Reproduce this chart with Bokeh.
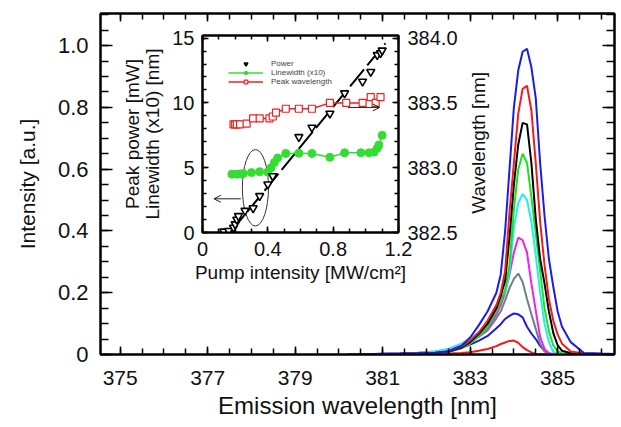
import math
from bokeh.plotting import figure
from bokeh.models import (Range1d, LinearAxis, FixedTicker, Legend, LegendItem,
                          Arrow, OpenHead, NumeralTickFormatter, Label)
from bokeh.embed import file_html
from bokeh.resources import INLINE

FONT = "Liberation Sans"

# ---------------- main panel: emission spectra ----------------
wavelength = [380.2, 380.8, 381.4, 381.8, 382.2, 382.5, 382.8, 383.0, 383.2, 383.4,
              383.6, 383.7, 383.8, 383.9, 384.0, 384.1, 384.2, 384.3, 384.4, 384.5,
              384.6, 384.7, 384.8, 384.9, 385.0, 385.1, 385.3, 385.6, 386.0, 386.3]

spec_red_small = [0.0, 0.0, 0.001, 0.001, 0.002, 0.003, 0.005, 0.007, 0.012, 0.018,
                  0.027, 0.034, 0.039, 0.044, 0.045, 0.038, 0.024, 0.014, 0.007, 0.002,
                  0.001, 0.0, 0.0, 0.0, 0.0, 0.0, 0.0, 0.0, 0.0, 0.0]
spec_blue_small = [0.0, 0.002, 0.003, 0.005, 0.007, 0.012, 0.022, 0.032, 0.045, 0.060,
                   0.085, 0.098, 0.115, 0.125, 0.133, 0.130, 0.120, 0.090, 0.068, 0.050,
                   0.028, 0.012, 0.003, 0.001, 0.0, 0.0, 0.0, 0.0, 0.0, 0.0]
spec_gray = [0.0, 0.002, 0.004, 0.006, 0.010, 0.016, 0.028, 0.042, 0.058, 0.078,
             0.118, 0.140, 0.175, 0.215, 0.245, 0.262, 0.235, 0.180, 0.130, 0.083,
             0.035, 0.010, 0.002, 0.0, 0.0, 0.0, 0.0, 0.0, 0.0, 0.0]
spec_magenta = [0.0, 0.001, 0.002, 0.004, 0.008, 0.015, 0.030, 0.042, 0.058, 0.086,
                0.130, 0.160, 0.200, 0.260, 0.330, 0.378, 0.370, 0.330, 0.230, 0.142,
                0.056, 0.018, 0.004, 0.001, 0.0, 0.0, 0.0, 0.0, 0.0, 0.0]
spec_cyan = [0.0, 0.001, 0.002, 0.004, 0.010, 0.018, 0.035, 0.052, 0.072, 0.100,
             0.150, 0.185, 0.200, 0.270, 0.410, 0.490, 0.520, 0.500, 0.430, 0.320,
             0.200, 0.100, 0.040, 0.008, 0.002, 0.001, 0.0, 0.0, 0.0, 0.0]
spec_green = [0.0, 0.001, 0.002, 0.003, 0.004, 0.008, 0.020, 0.035, 0.060, 0.090,
              0.140, 0.170, 0.210, 0.290, 0.470, 0.600, 0.650, 0.620, 0.510, 0.390,
              0.270, 0.150, 0.075, 0.030, 0.010, 0.004, 0.002, 0.001, 0.001, 0.001]
spec_black = [0.0, 0.001, 0.002, 0.003, 0.005, 0.009, 0.022, 0.040, 0.067, 0.100,
              0.150, 0.190, 0.240, 0.380, 0.550, 0.680, 0.750, 0.745, 0.620, 0.440,
              0.310, 0.230, 0.140, 0.070, 0.030, 0.012, 0.004, 0.002, 0.001, 0.001]
spec_red = [0.0, 0.001, 0.002, 0.003, 0.005, 0.010, 0.025, 0.045, 0.072, 0.110,
            0.160, 0.200, 0.270, 0.460, 0.620, 0.780, 0.860, 0.870, 0.790, 0.620,
            0.430, 0.290, 0.180, 0.110, 0.065, 0.035, 0.010, 0.003, 0.002, 0.001]
spec_blue = [0.0, 0.002, 0.003, 0.004, 0.006, 0.010, 0.028, 0.055, 0.095, 0.140,
             0.200, 0.260, 0.400, 0.600, 0.800, 0.920, 0.980, 0.990, 0.930, 0.830,
             0.620, 0.450, 0.310, 0.220, 0.140, 0.090, 0.040, 0.005, 0.003, 0.002]

spectra = [(spec_red_small, "#ee1c1c"), (spec_blue_small, "#1c1ce6"),
           (spec_gray, "#6f8088"), (spec_magenta, "#ee22ee"),
           (spec_cyan, "#22eeee"), (spec_green, "#22dd22"),
           (spec_black, "#000000"), (spec_red, "#ee1c1c"), (spec_blue, "#1c1ce6")]

main_x_ticks = [375, 377, 379, 381, 383, 385]
main_x_minor = [374.5 + 0.5 * k for k in range(25)]
main_y_ticks = [0, 0.2, 0.4, 0.6, 0.8, 1.0]
main_y_minor = [0.05 * k for k in range(23)]
main_y_labels = {0: "0", 0.2: "0.2", 0.4: "0.4", 0.6: "0.6", 0.8: "0.8", 1.0: "1.0"}

# ---------------- inset: power / linewidth / peak wavelength ----------------
power_x = [0.13, 0.16, 0.19, 0.20, 0.21, 0.22, 0.26, 0.31, 0.35, 0.40,
           0.43, 0.59, 0.67, 0.78, 0.87, 0.98, 1.03, 1.07, 1.09, 1.10]
power_y = [0.08, 0.13, 0.38, 0.64, 1.00, 1.28, 1.68, 1.88, 2.82, 3.72,
           4.35, 7.37, 8.10, 9.18, 10.75, 11.65, 12.40, 13.70, 13.85, 14.05]

linewidth_x = [0.18, 0.21, 0.23, 0.25, 0.30, 0.35, 0.40, 0.42, 0.44, 0.46, 0.51,
               0.59, 0.67, 0.78, 0.87, 0.97, 1.02, 1.05, 1.07, 1.08, 1.10]
linewidth_y = [4.50, 4.50, 4.52, 4.55, 4.62, 4.69, 4.67, 5.00, 5.40, 5.75, 6.10,
               6.12, 6.10, 5.80, 6.15, 6.15, 6.15, 6.20, 6.50, 6.75, 7.50]

peakwl_x = [0.19, 0.20, 0.21, 0.23, 0.27, 0.31, 0.35, 0.41, 0.43, 0.45,
            0.51, 0.59, 0.67, 0.78, 0.88, 0.98, 1.03, 1.06, 1.09]
peakwl_y = [383.335, 383.335, 383.335, 383.335, 383.34, 383.38, 383.38, 383.38, 383.395, 383.425,
            383.455, 383.455, 383.455, 383.50, 383.50, 383.50, 383.545, 383.50, 383.545]

fit_x = [0.17, 1.12]
fit_y = [0.0, 14.6]

inset_x_ticks = [0, 0.4, 0.8, 1.2]
inset_x_minor = [0.1 * k for k in range(13)]
inset_y_ticks = [0, 5, 10, 15]
inset_y_minor = list(range(16))
inset_wl_ticks = [382.5, 383.0, 383.5, 384.0]
inset_wl_minor = [382.5 + 0.1 * k for k in range(16)]

# annotations (ellipse around threshold points, arrows pointing to the axes)
ellipse_center = (0.324, 3.45)
ellipse_size = (0.16, 5.9)
arrow_left = (0.235, 2.6, 0.07, 2.6)
arrow_right = (0.89, 9.65, 1.085, 9.65)
# inset right-axis title, placed in the main panel's coordinates (it lies over it)
wl_label_pos = (383.19, 0.685)


def style_axis(ax, major, minor, tick_size, major_in, minor_in, width=2):
    ax.ticker = FixedTicker(ticks=major, minor_ticks=minor)
    ax.major_tick_in = major_in
    ax.major_tick_out = 0
    ax.minor_tick_in = minor_in
    ax.minor_tick_out = 0
    ax.axis_line_width = width
    ax.axis_line_color = "black"
    ax.major_tick_line_width = 1.5
    ax.minor_tick_line_width = 1.5
    ax.major_tick_line_color = "black"
    ax.minor_tick_line_color = "black"
    ax.major_label_text_font = FONT
    ax.major_label_text_font_size = tick_size
    ax.major_label_text_color = "#111111"
    ax.axis_label_text_font = FONT
    ax.axis_label_text_font_style = "normal"
    ax.axis_label_text_color = "#111111"


def blank_axis(ax):
    ax.major_label_text_color = None
    ax.major_label_text_font_size = "1px"
    ax.major_label_standoff = 0


# ---------------- main figure ----------------
p = figure(width=621, height=427, x_range=Range1d(374.55, 386.3), y_range=Range1d(0, 1.104),
           output_backend="svg", toolbar_location=None,
           min_border_left=100, min_border_right=7, min_border_top=13, min_border_bottom=73)
p.grid.visible = False
p.outline_line_color = "black"
p.outline_line_width = 2
p.background_fill_color = "white"
p.border_fill_color = "white"

for ys, col in spectra:
    p.line(wavelength, ys, line_color=col, line_width=2)

p.add_layout(Label(x=wl_label_pos[0], y=wl_label_pos[1], text="Wavelength [nm]",
                   angle=math.pi / 2, text_align="center", text_baseline="middle",
                   text_font=FONT, text_font_size="19px", text_color="#111111"))

xa = p.xaxis[0]
style_axis(xa, main_x_ticks, main_x_minor, "21px", 8, 6)
xa.axis_label = "Emission wavelength [nm]"
xa.axis_label_text_font_size = "24px"
xa.major_label_standoff = 16
xa.axis_label_standoff = 4

ya = p.yaxis[0]
style_axis(ya, main_y_ticks, main_y_minor, "22px", 12, 8)
ya.formatter = NumeralTickFormatter(format="0.0")
ya.major_label_overrides = main_y_labels
ya.axis_label = "Intensity [a.u.]"
ya.axis_label_text_font_size = "21px"
ya.major_label_standoff = 12
ya.axis_label_standoff = 16

top_ax = LinearAxis()
style_axis(top_ax, main_x_ticks, main_x_minor, "1px", 8, 6)
blank_axis(top_ax)
p.add_layout(top_ax, "above")

right_ax = LinearAxis()
style_axis(right_ax, main_y_ticks, main_y_minor, "1px", 12, 8)
blank_axis(right_ax)
p.add_layout(right_ax, "right")

# ---------------- inset figure ----------------
q = figure(frame_width=196, frame_height=197, x_range=Range1d(0, 1.2), y_range=Range1d(0, 15.2),
           output_backend="svg", toolbar_location=None,
           min_border_left=110, min_border_right=70, min_border_top=15, min_border_bottom=60)
q.extra_y_ranges = {"wl": Range1d(382.5, 384.02)}
q.grid.visible = False
q.outline_line_color = "black"
q.outline_line_width = 2
q.background_fill_color = "white"
q.border_fill_alpha = 0
q.styles = {"position": "absolute", "left": "92px", "top": "20px", "z-index": "2"}

q.ellipse(x=[ellipse_center[0]], y=[ellipse_center[1]], width=ellipse_size[0],
          height=ellipse_size[1], fill_color=None, line_color="#333333", line_width=1)
q.add_layout(Arrow(end=OpenHead(size=7, line_width=1, line_color="#222222"),
                   x_start=arrow_left[0], y_start=arrow_left[1],
                   x_end=arrow_left[2], y_end=arrow_left[3],
                   line_width=1, line_color="#222222"))
q.add_layout(Arrow(end=OpenHead(size=7, line_width=1, line_color="#222222"),
                   x_start=arrow_right[0], y_start=arrow_right[1],
                   x_end=arrow_right[2], y_end=arrow_right[3],
                   line_width=1, line_color="#222222"))

q.line(fit_x, fit_y, line_color="black", line_width=2, line_dash="22 5")

r_pw_line = q.line(peakwl_x, peakwl_y, line_color="#ee2222", line_width=1.5, y_range_name="wl")
r_pw_pts = q.scatter(peakwl_x, peakwl_y, marker="square", size=7, fill_color="white",
                     line_color="#ee2222", line_width=1.2, y_range_name="wl")
r_lw_line = q.line(linewidth_x, linewidth_y, line_color="#33dd33", line_width=1.5)
r_lw_pts = q.scatter(linewidth_x, linewidth_y, marker="circle", size=8,
                     fill_color="#33dd33", line_color="#33dd33")
r_pow = q.scatter(power_x, power_y, marker="inverted_triangle", size=8, fill_color="white",
                  line_color="black", line_width=1.6)

legend = Legend(items=[LegendItem(label="Power", renderers=[r_pow]),
                       LegendItem(label="Linewidth (x10)", renderers=[r_lw_line, r_lw_pts]),
                       LegendItem(label="Peak wavelength", renderers=[r_pw_line, r_pw_pts])],
                location=(26, 146), glyph_width=35, glyph_height=9, label_height=9,
                spacing=0, padding=2, margin=0, label_standoff=8,
                label_text_font=FONT, label_text_font_size="8px",
                border_line_color=None, background_fill_alpha=0)
q.add_layout(legend)

qx = q.xaxis[0]
style_axis(qx, inset_x_ticks, inset_x_minor, "20px", 6, 4)
qx.major_label_overrides = {0: "0", 0.4: "0.4", 0.8: "0.8", 1.2: "1.2"}
qx.axis_label = "Pump intensity [MW/cm²]"
qx.axis_label_text_font_size = "19px"
qx.major_label_standoff = 9
qx.axis_label_standoff = 3

qy = q.yaxis[0]
style_axis(qy, inset_y_ticks, inset_y_minor, "20px", 6, 4)
qy.axis_label = "Linewidth (x10) [nm]"
qy.axis_label_text_font_size = "19px"
qy.major_label_standoff = 8
qy.axis_label_standoff = 6

qy2 = LinearAxis(axis_label="Peak power [mW]")
style_axis(qy2, inset_y_ticks, inset_y_minor, "1px", 0, 0)
blank_axis(qy2)
qy2.axis_line_color = None
qy2.major_tick_line_color = None
qy2.minor_tick_line_color = None
qy2.axis_label_text_font_size = "19px"
qy2.axis_label_standoff = -3
q.add_layout(qy2, "left")

qr = LinearAxis(y_range_name="wl")
style_axis(qr, inset_wl_ticks, inset_wl_minor, "20px", 6, 4)
qr.formatter = NumeralTickFormatter(format="0.0")
qr.major_label_standoff = 9
q.add_layout(qr, "right")

qt = LinearAxis()
style_axis(qt, inset_x_ticks, inset_x_minor, "1px", 6, 4)
blank_axis(qt)
q.add_layout(qt, "above")

open("out.html", "w").write(file_html([p, q], INLINE))
